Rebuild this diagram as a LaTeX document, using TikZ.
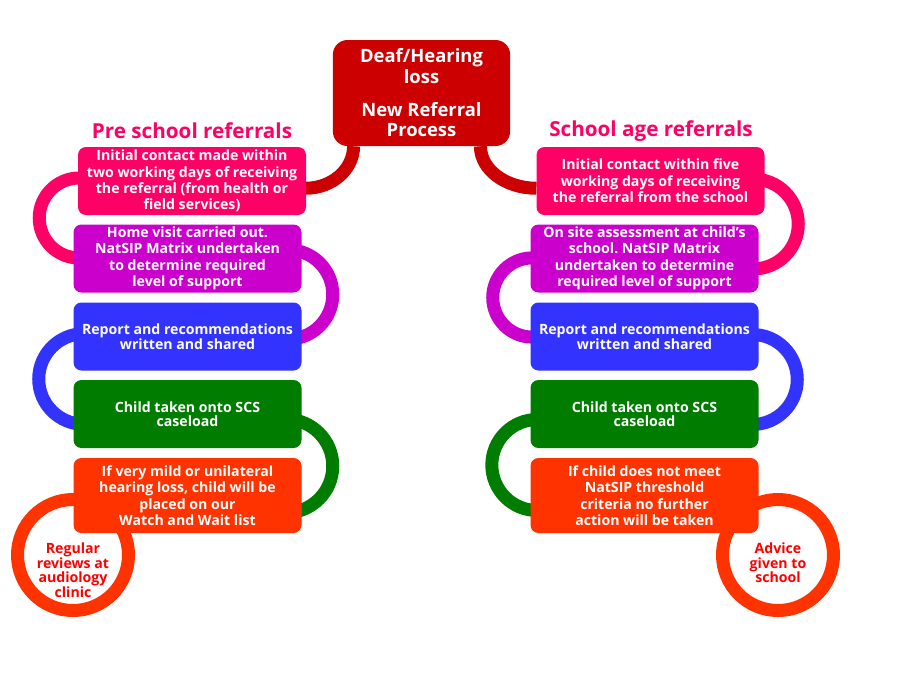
\documentclass[tikz,border=0pt]{standalone}
\usepackage{fontspec}
\setmainfont{Open Sans}
\usetikzlibrary{backgrounds}
\definecolor{hubred}{HTML}{CC0000}
\definecolor{stagepink}{HTML}{FF0066}
\definecolor{stagemagenta}{HTML}{CC00CC}
\definecolor{stageblue}{HTML}{3333FF}
\definecolor{stagegreen}{HTML}{007C00}
\definecolor{stageorange}{HTML}{FF3300}
\definecolor{ringred}{HTML}{FF0000}
\frenchspacing

\begin{document}
\begin{tikzpicture}[x=0.75pt, y=0.75pt,
  stage/.style={rounded corners=6pt, inner sep=0pt, text=white, align=center,
    font=\fontsize{10.6}{12.3}\selectfont\bfseries, minimum width=171pt, minimum height=51pt},
  title/.style={text=stagepink, font=\fontsize{15.5}{17}\selectfont\bfseries},
  link/.style={line width=9.75pt},
  ring/.style={circle, draw=stageorange, line width=9.75pt, fill=white, minimum size=83.25pt, inner sep=0pt},
  ringtext/.style={text=ringred, align=center, font=\fontsize{10.6}{10.9}\selectfont\bfseries}]
\useasboundingbox (0,0) rectangle (900,-675);
% --- process head ---
\node[stage, fill=hubred, minimum width=133pt, minimum height=79.5pt, rounded corners=11pt,
  font=\fontsize{13.8}{15.5}\selectfont\bfseries] (hub) at (421.5,-93)
  {Deaf/Hearing\\loss\\[9pt]New Referral\\Process};
\node[title] (pretitle) at (192,-131) {Pre school referrals};
\node[title] (schtitle) at (651,-131) {School age referrals};
% --- pre school column ---
\node[stage, fill=stagepink] (pre1) at (192,-181)
  {Initial contact made within\\two working days of receiving\\the referral (from health or\\field services)};
\node[stage, fill=stagemagenta] (pre2) at (187.5,-258.5)
  {Home visit carried out.\\NatSIP Matrix undertaken\\to determine required\\level of support};
\node[stage, fill=stageblue, font=\fontsize{10.6}{10.5}\selectfont\bfseries] (pre3) at (187.5,-336.5)
  {Report and recommendations\\written and shared};
\node[stage, fill=stagegreen, font=\fontsize{10.6}{10.5}\selectfont\bfseries] (pre4) at (187.5,-414)
  {Child taken onto SCS\\caseload};
\node[stage, fill=stageorange, minimum height=56.25pt] (pre5) at (187.5,-495.5)
  {If very mild or unilateral\\hearing loss, child will be\\placed on our\\Watch and Wait list};
\node[ringtext] (preendtext) at (73,-570) {Regular\\reviews at\\audiology\\clinic};
% --- school age column ---
\node[stage, fill=stagepink] (sch1) at (650.5,-181)
  {Initial contact within five\\working days of receiving\\the referral from the school};
\node[stage, fill=stagemagenta] (sch2) at (644.5,-258.5)
  {On site assessment at child’s\\school. NatSIP Matrix\\undertaken to determine\\required level of support};
\node[stage, fill=stageblue, font=\fontsize{10.6}{10.5}\selectfont\bfseries] (sch3) at (644.5,-336.5)
  {Report and recommendations\\written and shared};
\node[stage, fill=stagegreen, font=\fontsize{10.6}{10.5}\selectfont\bfseries] (sch4) at (644.5,-414)
  {Child taken onto SCS\\caseload};
\node[stage, fill=stageorange, minimum height=56.25pt] (sch5) at (644.5,-495.5)
  {If child does not meet\\NatSIP threshold\\criteria no further\\action will be taken};
\node[ringtext] (schendtext) at (778,-563) {Advice\\given to\\school};
% --- loops behind the boxes ---
\begin{scope}[on background layer]
\node[ring] (preend) at (73,-555) {};
\node[ring] (schend) at (778,-555) {};
\draw[link, hubred] ([shift={(21,0)}]hub.south west) arc[start angle=0, end angle=-90, x radius=48, y radius=42];
\draw[link, hubred] ([shift={(-30,0)}]hub.south east) arc[start angle=180, end angle=270, x radius=56, y radius=42];
\draw[link, stagepink] ([shift={(1.5,3)}]pre1.west) arc[start angle=90, end angle=270, radius=40];
\draw[link, stagemagenta] ([shift={(-13.6,8.6)}]pre2.east) arc[start angle=90, end angle=-90, radius=44.6];
\draw[link, stageblue] ([shift={(10.8,2.8)}]pre3.west) arc[start angle=90, end angle=270, radius=45.3];
\draw[link, stagegreen] ([shift={(-15.7,-5.3)}]pre4.east) arc[start angle=90, end angle=-90, radius=46.7];
\draw[link, stagepink] ([shift={(-11.4,1.9)}]sch1.east) arc[start angle=90, end angle=-90, radius=44.9];
\draw[link, stagemagenta] ([shift={(2.1,0.6)}]sch2.west) arc[start angle=90, end angle=270, radius=39.6];
\draw[link, stageblue] ([shift={(-6.5,2)}]sch3.east) arc[start angle=90, end angle=-90, radius=45];
\draw[link, stagegreen] ([shift={(7.1,-5.5)}]sch4.west) arc[start angle=90, end angle=270, radius=45.5];
\end{scope}
\end{tikzpicture}
\end{document}
